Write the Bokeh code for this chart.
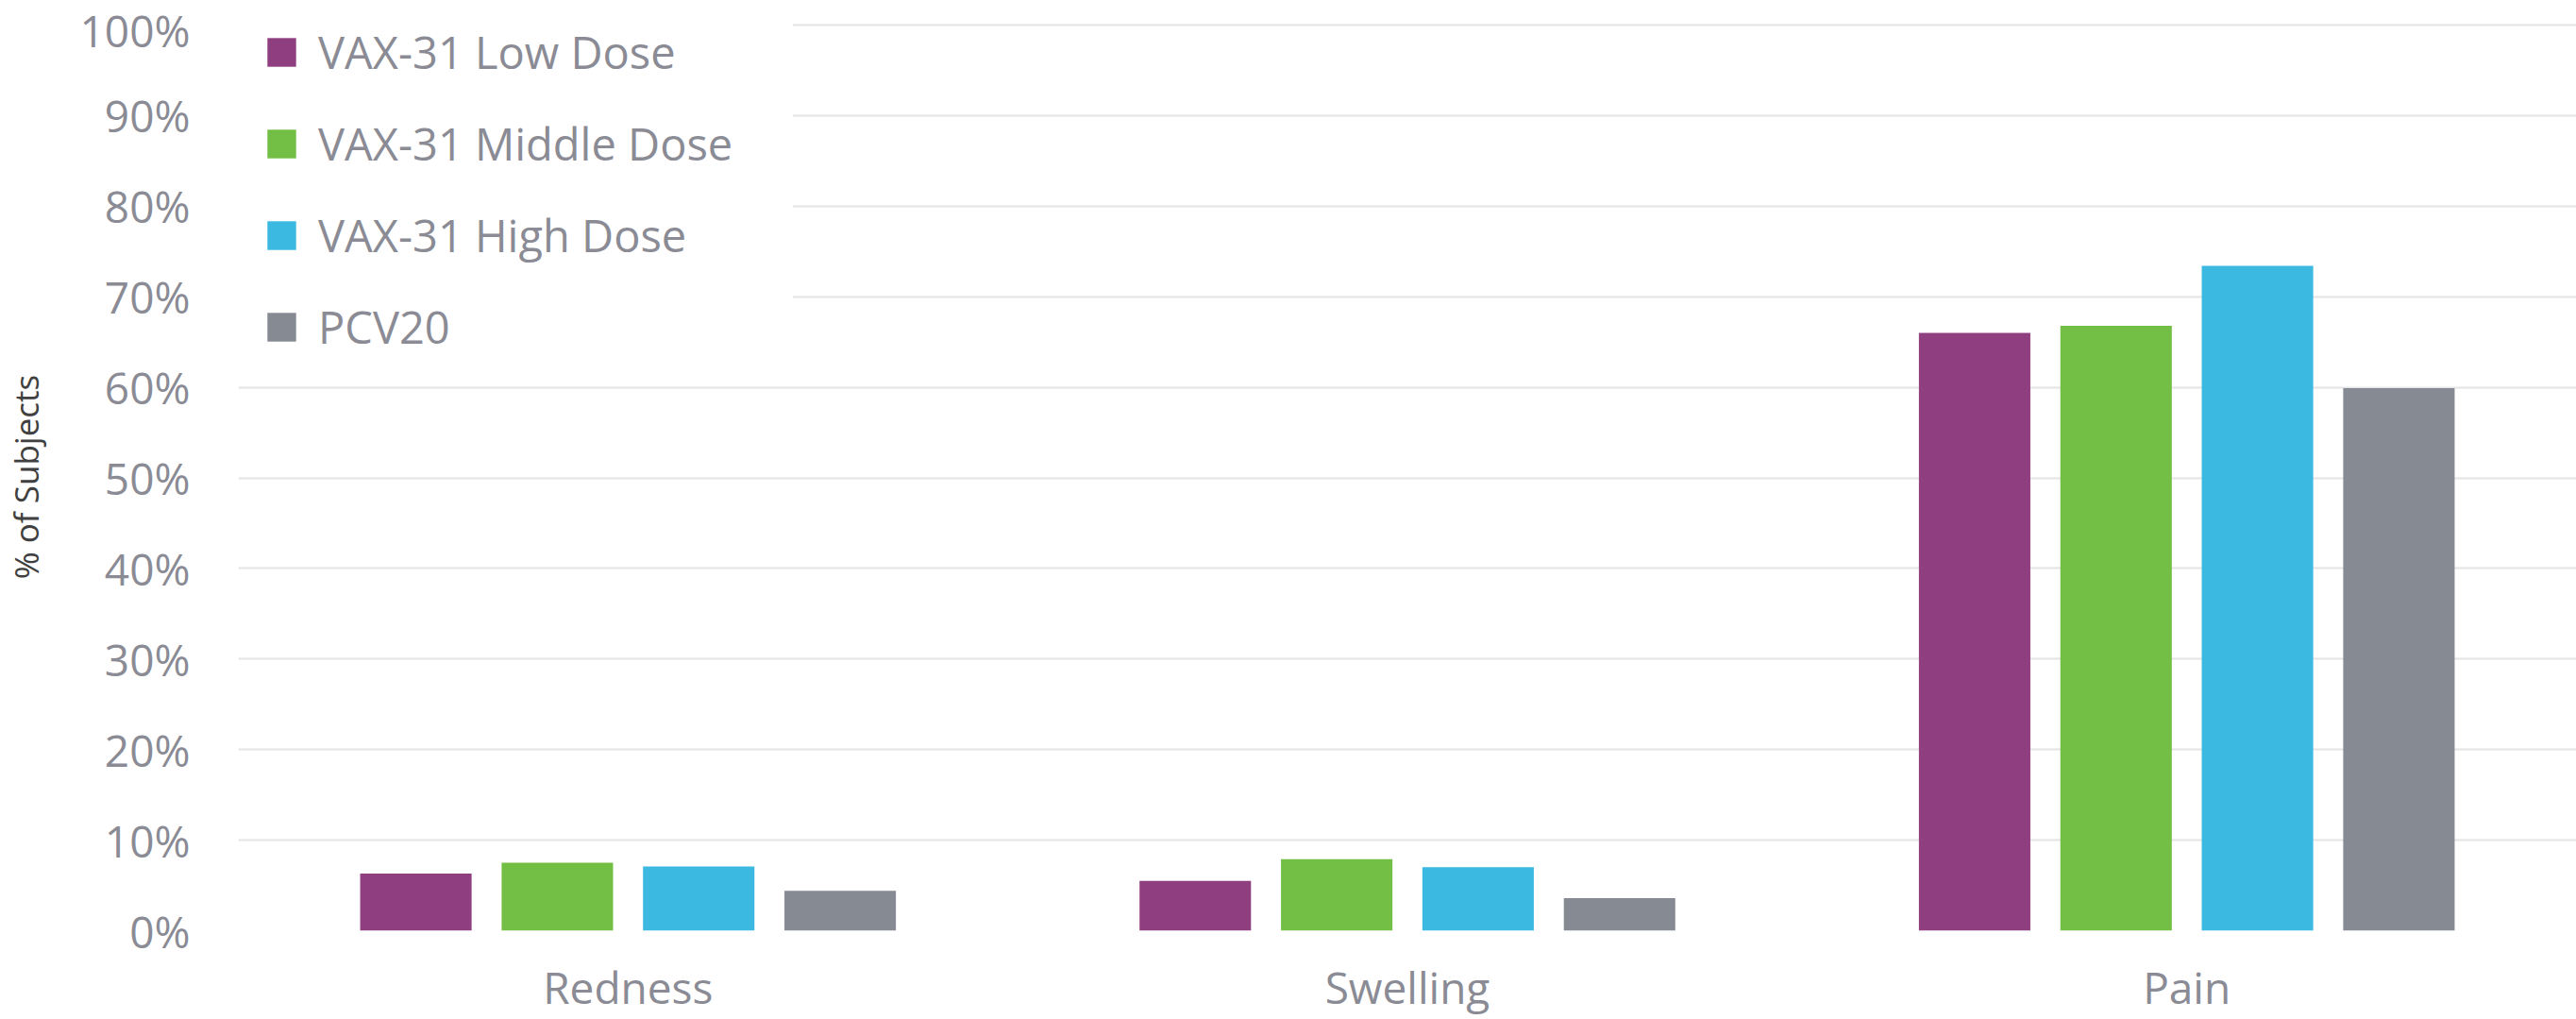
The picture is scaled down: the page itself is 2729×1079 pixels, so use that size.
from bokeh.plotting import figure
from bokeh.models import (ColumnDataSource, FactorRange, Range1d, Legend, LegendItem,
                          NumeralTickFormatter, FixedTicker)
from bokeh.transform import dodge
from bokeh.embed import file_html
from bokeh.resources import INLINE

categories = ["Redness", "Swelling", "Pain"]
series_names = ["VAX-31 Low Dose", "VAX-31 Middle Dose", "VAX-31 High Dose", "PCV20"]
low_dose = [0.063, 0.055, 0.660]
middle_dose = [0.075, 0.079, 0.668]
high_dose = [0.071, 0.070, 0.734]
pcv20 = [0.044, 0.036, 0.599]
colors = ["#8F3F80", "#73BF45", "#3BB9E1", "#858A93"]
y_ticks = [0.0, 0.1, 0.2, 0.3, 0.4, 0.5, 0.6, 0.7, 0.8, 0.9, 1.0]

FONT = "Open Sans"
TXT = "#8A8B94"

source = ColumnDataSource(data=dict(cat=categories, low=low_dose, mid=middle_dose,
                                    high=high_dose, pcv=pcv20))

W, H = 2729, 1079
TOP, BOTTOM = 24, 94
p = figure(x_range=FactorRange(factors=categories, range_padding=0),
           y_range=Range1d(0, 1.0021), width=W, height=H, title=None,
           output_backend="svg", toolbar_location=None,
           min_border_left=252, min_border_right=0, min_border_top=TOP, min_border_bottom=BOTTOM)

offsets = [-0.2722, -0.0907, 0.0907, 0.2722]
fields = ["low", "mid", "high", "pcv"]
renderers = []
for f, off, c in zip(fields, offsets, colors):
    r = p.vbar(x=dodge("cat", off, range=p.x_range), top=f, width=0.143, bottom=0,
               source=source, fill_color=c, line_color=None)
    renderers.append(r)

p.outline_line_color = None
p.xgrid.grid_line_color = None
p.ygrid.grid_line_color = "#E4E4E4"
p.ygrid.grid_line_width = 2
p.yaxis.ticker = FixedTicker(ticks=y_ticks)
p.yaxis.formatter = NumeralTickFormatter(format="0%")

for ax in (p.xaxis[0], p.yaxis[0]):
    ax.axis_line_color = None
    ax.major_tick_line_color = None
    ax.minor_tick_line_color = None
    ax.major_tick_out = 0
    ax.major_tick_in = 0
    ax.major_label_text_font = FONT
    ax.major_label_text_font_size = "46px"
    ax.major_label_text_color = TXT

p.yaxis.major_label_standoff = 51
p.xaxis.major_label_standoff = 28
p.yaxis.axis_label = "% of Subjects"
p.yaxis.axis_label_text_font = FONT
p.yaxis.axis_label_text_font_size = "35px"
p.yaxis.axis_label_text_font_style = "normal"
p.yaxis.axis_label_text_color = "#404040"
p.yaxis.axis_label_standoff = 31

legend = Legend(items=[LegendItem(label=n, renderers=[r]) for n, r in zip(series_names, renderers)],
                location=(0, 580), orientation="vertical",
                padding=27, margin=0, spacing=33,
                glyph_width=38, glyph_height=38, label_height=38, label_width=476,
                label_standoff=20,
                label_text_font=FONT, label_text_font_size="47px", label_text_color=TXT,
                border_line_color="white", border_line_alpha=0.0,
                background_fill_color="white", background_fill_alpha=1.0)
p.add_layout(legend, "center")

open("out.html", "w").write(file_html(p, INLINE))
